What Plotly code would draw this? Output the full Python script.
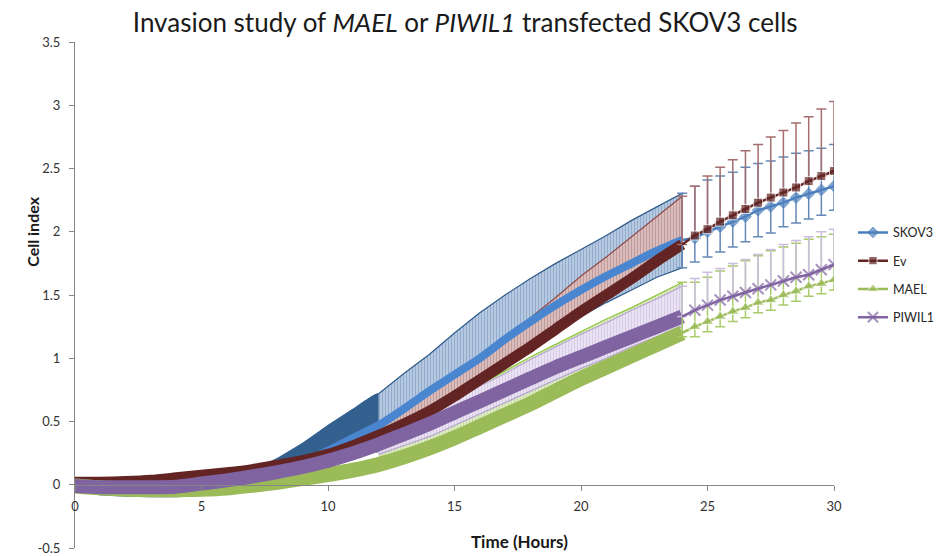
import plotly.graph_objects as go

# ---------------- data ----------------
hours = [0, 1, 2, 3, 4, 5, 6, 7, 8, 9, 10, 11, 12, 13, 14, 15, 16, 17, 18, 19, 20,
         21, 22, 23, 24, 24.5, 25, 25.5, 26, 26.5, 27, 27.5, 28, 28.5, 29, 29.5, 30]

skov3 = [0.00, -0.03, -0.04, -0.045, -0.045, -0.035, -0.01, 0.03, 0.09, 0.17, 0.27, 0.37,
         0.47, 0.60, 0.74, 0.87, 1.00, 1.15, 1.29, 1.42, 1.54, 1.65, 1.75, 1.85, 1.935,
         1.95, 2.00, 2.04, 2.08, 2.12, 2.17, 2.20, 2.23, 2.27, 2.30, 2.33, 2.36]
skov3_err_plus = [0.04, 0.04, 0.04, 0.05, 0.05, 0.05, 0.06, 0.08, 0.12, 0.16, 0.20, 0.23,
                  0.25, 0.28, 0.29, 0.33, 0.36, 0.35, 0.34, 0.33, 0.32, 0.32, 0.34, 0.35, 0.37,
                  0.41, 0.41, 0.40, 0.39, 0.39, 0.37, 0.36, 0.36, 0.35, 0.34, 0.33, 0.33]
skov3_err_minus = [0.05, 0.05, 0.05, 0.05, 0.05, 0.05, 0.05, 0.05, 0.05, 0.05, 0.05, 0.05,
                   0.21, 0.21, 0.21, 0.21, 0.21, 0.21, 0.21, 0.21, 0.21, 0.21, 0.21, 0.21, 0.22,
                   0.19, 0.20, 0.20, 0.20, 0.20, 0.21, 0.21, 0.19, 0.20, 0.20, 0.20, 0.19]

ev = [0.02, 0.02, 0.025, 0.035, 0.055, 0.075, 0.095, 0.12, 0.155, 0.19, 0.24, 0.31,
      0.39, 0.48, 0.58, 0.70, 0.83, 0.96, 1.09, 1.23, 1.37, 1.50, 1.63, 1.77, 1.90,
      1.97, 2.02, 2.08, 2.13, 2.18, 2.23, 2.27, 2.31, 2.35, 2.40, 2.44, 2.48]
ev_err_plus = [0.02, 0.02, 0.02, 0.02, 0.03, 0.03, 0.03, 0.04, 0.04, 0.05, 0.06, 0.08,
               0.10, 0.12, 0.14, 0.16, 0.18, 0.20, 0.23, 0.25, 0.28, 0.30, 0.33, 0.35, 0.38,
               0.39, 0.42, 0.43, 0.44, 0.46, 0.46, 0.48, 0.49, 0.51, 0.51, 0.53, 0.55]

mael = [-0.01, -0.025, -0.035, -0.04, -0.04, -0.035, -0.025, -0.005, 0.02, 0.05, 0.08, 0.115,
        0.16, 0.22, 0.29, 0.37, 0.46, 0.55, 0.64, 0.74, 0.84, 0.93, 1.02, 1.11, 1.20,
        1.25, 1.29, 1.33, 1.37, 1.40, 1.44, 1.46, 1.50, 1.53, 1.57, 1.59, 1.62]
mael_err_plus = [0.02, 0.02, 0.02, 0.02, 0.02, 0.03, 0.03, 0.04, 0.05, 0.07, 0.09, 0.12,
                 0.16, 0.21, 0.26, 0.30, 0.33, 0.35, 0.37, 0.37, 0.37, 0.38, 0.38, 0.39, 0.40,
                 0.35, 0.35, 0.36, 0.36, 0.37, 0.37, 0.39, 0.38, 0.38, 0.37, 0.37, 0.36]
mael_err_minus = [0.03, 0.03, 0.03, 0.03, 0.03, 0.03, 0.03, 0.03, 0.03, 0.03, 0.03, 0.03,
                  0.03, 0.03, 0.03, 0.03, 0.03, 0.03, 0.03, 0.03, 0.03, 0.03, 0.03, 0.03, 0.03,
                  0.08, 0.08, 0.08, 0.08, 0.08, 0.08, 0.08, 0.08, 0.08, 0.08, 0.08, 0.08]

piwil1 = [-0.01, -0.02, -0.02, -0.02, -0.015, 0.01, 0.035, 0.065, 0.10, 0.14, 0.19, 0.25,
          0.32, 0.40, 0.48, 0.57, 0.66, 0.75, 0.84, 0.93, 1.01, 1.09, 1.17, 1.25, 1.33,
          1.38, 1.42, 1.46, 1.49, 1.52, 1.55, 1.58, 1.61, 1.64, 1.66, 1.70, 1.74]
piwil1_err_plus = [0.02, 0.02, 0.02, 0.02, 0.02, 0.02, 0.03, 0.03, 0.04, 0.05, 0.06, 0.07,
                   0.08, 0.09, 0.10, 0.11, 0.12, 0.13, 0.15, 0.16, 0.18, 0.19, 0.21, 0.22, 0.24,
                   0.25, 0.26, 0.25, 0.26, 0.26, 0.27, 0.28, 0.29, 0.29, 0.30, 0.30, 0.28]
piwil1_err_minus = [0.02, 0.02, 0.02, 0.02, 0.02, 0.02, 0.03, 0.03, 0.04, 0.05, 0.06, 0.07,
                    0.08, 0.09, 0.10, 0.10, 0.10, 0.10, 0.10, 0.10, 0.09, 0.09, 0.08, 0.08, 0.08,
                    0.0, 0.0, 0.0, 0.0, 0.0, 0.0, 0.0, 0.0, 0.0, 0.0, 0.0, 0.0]

x_ticks = [0, 5, 10, 15, 20, 25, 30]
y_ticks = [-0.5, 0, 0.5, 1, 1.5, 2, 2.5, 3, 3.5]
y_tick_text = ["-0.5", "0", "0.5", "1", "1.5", "2", "2.5", "3", "3.5"]

# ---------------- helpers ----------------
DENSE_END = hours.index(24)      # last densely-sampled point
HATCH_START = hours.index(12)    # where individual error bars become visible


def add(a, b, sign=1):
    return [u + sign * v for u, v in zip(a, b)]


def polygon(x, lo, hi):
    return list(x) + list(x[::-1]), list(hi) + list(lo[::-1])


fig = go.Figure()

# ---- error regions of the dense part ----
# SKOV3 very dense bars (0-12 h) -> solid dark blue
i0, i1 = 0, HATCH_START + 1
px, py = polygon(hours[i0:i1], add(skov3, skov3_err_minus, -1)[i0:i1], add(skov3, skov3_err_plus)[i0:i1])
fig.add_trace(go.Scatter(x=px, y=py, fill="toself", mode="lines",
                         line=dict(color="#34608F", width=1, shape="spline", smoothing=0.5),
                         fillcolor="#34608F", hoverinfo="skip", showlegend=False))


def hatch(lo, hi, fg, bg, edge, sol=0.5):
    a, b = HATCH_START, DENSE_END + 1
    px, py = polygon(hours[a:b], lo[a:b], hi[a:b])
    fig.add_trace(go.Scatter(x=px, y=py, fill="toself", mode="lines",
                             line=dict(color=edge, width=1.2), fillcolor=bg,
                             fillpattern=dict(shape="|", fgcolor=fg, bgcolor=bg, size=3, solidity=sol),
                             hoverinfo="skip", showlegend=False))


hatch(add(skov3, skov3_err_minus, -1), add(skov3, skov3_err_plus), "#5F86B8", "#C3D2E5", "#2E5A8A")
hatch(ev, add(ev, ev_err_plus), "#A56B6B", "#E0C8C8", "#8C4B4B")
hatch(mael, add(mael, mael_err_plus), "#A9C96E", "#E6F0D4", "#8DC63F")
hatch(add(piwil1, piwil1_err_minus, -1), add(piwil1, piwil1_err_plus), "#C2B1D9", "#EFE9F6", "#B6A2D0")

# ---- dense part: overlapping markers look like thick bands ----
bands = [(skov3, "#4A86CF", 8), (ev, "#632523", 11), (mael, "#9BBB59", 15), (piwil1, "#8064A2", 14)]
for ys, col, w in bands:
    fig.add_trace(go.Scatter(x=hours[:DENSE_END + 1], y=ys[:DENSE_END + 1], mode="lines",
                             line=dict(color=col, width=w, shape="spline", smoothing=0.6),
                             hoverinfo="skip", showlegend=False))

# ---- sparse part (24-30 h) with markers and error bars ----
s = DENSE_END
n_late = len(hours) - s
sizes = [0] + [1] * (n_late - 1)

series = [
    ("SKOV3", skov3, skov3_err_plus, skov3_err_minus, "#4A7EBB", "#4F81BD", "diamond", 9, "#6489B8"),
    ("Ev", ev, ev_err_plus, [0] * len(ev), "#632523", "#632523", "square", 9, "#A66E6E"),
    ("MAEL", mael, mael_err_plus, mael_err_minus, "#9BBB59", "#9BBB59", "triangle-up", 11, "#A8CC6A"),
    ("PIWIL1", piwil1, piwil1_err_plus, [0] * len(piwil1), "#8064A2", "#8064A2", "x-thin", 11, "#CBBDDF"),
]
for name, ys, ep, em, lcol, mcol, sym, msz, ecol in series:
    marker = dict(symbol=sym, size=[msz * k for k in sizes], color=mcol)
    if sym == "x-thin":
        marker["line"] = dict(color=mcol, width=2)
    fig.add_trace(go.Scatter(
        x=hours[s:], y=ys[s:], name=name, legendgroup=name,
        mode="lines+markers", line=dict(color=lcol, width=2.5),
        marker=marker,
        error_y=dict(type="data", symmetric=False, array=ep[s:], arrayminus=em[s:],
                     color=ecol, thickness=1.5, width=5),
    ))

# The page body adds an 8 px margin, so the figure is 8 px smaller and margins shifted.
fig.update_layout(
    width=933, height=548,
    margin=dict(l=67, r=107, t=34, b=8, autoexpand=False),
    paper_bgcolor="white", plot_bgcolor="white",
    font=dict(family="Lato, 'Open Sans', sans-serif", color="#262626"),
    title=dict(text="Invasion study of <i>MAEL</i> or <i>PIWIL1</i> transfected SKOV3 cells",
               x=0.490, xref="container", xanchor="center",
               y=0.972, yref="container", yanchor="middle", pad=dict(t=0, b=0),
               font=dict(family="Lato", size=26, color="#1a1a1a")),
    xaxis=dict(range=[0, 30], tickvals=x_ticks, ticks="outside", ticklen=5,
               tickcolor="#868686", showline=True, linecolor="#868686", linewidth=1,
               showgrid=False, zeroline=False, anchor="free", position=0.125,
               ticklabelstandoff=5, tickfont=dict(size=13, color="#333333")),
    yaxis=dict(range=[-0.5, 3.5], tickvals=y_ticks, ticktext=y_tick_text, ticks="outside",
               ticklen=5, tickcolor="#868686", showline=True, linecolor="#868686",
               linewidth=1, showgrid=False, zeroline=False, ticklabelstandoff=6,
               tickfont=dict(size=13, color="#333333")),
    legend=dict(x=1.025, y=0.54, xanchor="left", yanchor="middle",
                font=dict(size=12.5, color="#262626"), tracegroupgap=9,
                itemwidth=30, bgcolor="rgba(0,0,0,0)"),
    annotations=[
        dict(text="<b>Cell index</b>", textangle=-90, x=-0.057, y=0.6245, xref="paper",
             yref="paper", showarrow=False, font=dict(size=16, color="#1a1a1a"),
             xanchor="center", yanchor="middle"),
        dict(text="<b>Time (Hours)</b>", x=0.586, y=0.012, xref="paper", yref="paper",
             showarrow=False, font=dict(size=17, color="#1a1a1a"),
             xanchor="center", yanchor="middle"),
    ],
)

fig.write_html("out.html")
